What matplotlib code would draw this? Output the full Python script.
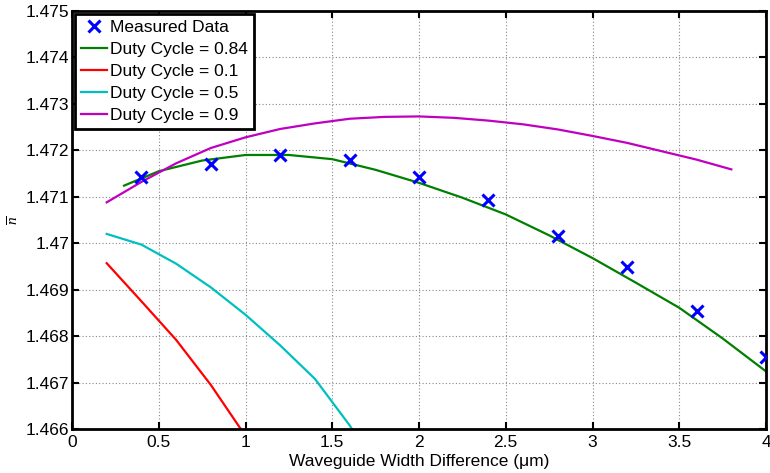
import matplotlib
matplotlib.use("Agg")
import matplotlib.pyplot as plt
from matplotlib.ticker import FuncFormatter

plt.rcParams['font.family'] = ['Liberation Sans', 'DejaVu Sans']
plt.rcParams['mathtext.fontset'] = 'custom'
plt.rcParams['mathtext.it'] = 'Liberation Serif:italic'
plt.rcParams['mathtext.rm'] = 'Liberation Serif'

# Measured data
meas_x = [0.4, 0.8, 1.2, 1.6, 2.0, 2.4, 2.8, 3.2, 3.6, 4.0]
meas_y = [1.47142, 1.47171, 1.47190, 1.47180, 1.47142, 1.47093, 1.47016, 1.46949, 1.46853, 1.46754]

# Duty cycle 0.84
dc084_x = [0.3, 0.5, 0.75, 1.0, 1.25, 1.5, 1.75, 2.0, 2.25, 2.5, 2.75, 3.0, 3.25, 3.5, 3.75, 4.0]
dc084_y = [1.47124, 1.47155, 1.47178, 1.47190, 1.47190, 1.47181, 1.47158, 1.47130, 1.47098,
           1.47062, 1.47017, 1.46968, 1.46915, 1.46861, 1.46795, 1.46724]

# Duty cycle 0.1
dc01_x = [0.2, 0.4, 0.6, 0.8, 1.0]
dc01_y = [1.46957, 1.46875, 1.46792, 1.46695, 1.46585]

# Duty cycle 0.5
dc05_x = [0.2, 0.4, 0.6, 0.8, 1.0, 1.2, 1.4, 1.6, 1.8]
dc05_y = [1.47020, 1.46997, 1.46956, 1.46905, 1.46846, 1.46780, 1.46708, 1.46608, 1.46490]

# Duty cycle 0.9
dc09_x = [0.2, 0.4, 0.6, 0.8, 1.0, 1.2, 1.4, 1.6, 1.8, 2.0, 2.2, 2.4, 2.6, 2.8, 3.0, 3.2, 3.4, 3.6, 3.8]
dc09_y = [1.47088, 1.47132, 1.47172, 1.47205, 1.47228, 1.47246, 1.47258, 1.47268, 1.47272, 1.47273,
          1.47270, 1.47264, 1.47256, 1.47245, 1.47231, 1.47216, 1.47198, 1.47180, 1.47159]

xticks = [0, 0.5, 1, 1.5, 2, 2.5, 3, 3.5, 4]
yticks = [1.466, 1.467, 1.468, 1.469, 1.470, 1.471, 1.472, 1.473, 1.474, 1.475]

fig = plt.figure(figsize=(7.7, 4.73), dpi=100)
ax = fig.add_axes([72/770, 1-429/473, (766-72)/770, (429-11)/473])

lw = 1.6
ax.plot(meas_x, meas_y, 'x', color='#0000ff', ms=8, mew=2.2, label='Measured Data', zorder=5)
ax.plot(dc084_x, dc084_y, color='#008000', lw=lw, label='Duty Cycle = 0.84')
ax.plot(dc01_x, dc01_y, color='#ff0000', lw=lw, label='Duty Cycle = 0.1')
ax.plot(dc05_x, dc05_y, color='#00bfbf', lw=lw, label='Duty Cycle = 0.5')
ax.plot(dc09_x, dc09_y, color='#bf00bf', lw=lw, label='Duty Cycle = 0.9')

ax.set_xlim(0, 4)
ax.set_ylim(1.466, 1.475)
ax.set_xticks(xticks)
ax.set_yticks(yticks)
ax.xaxis.set_major_formatter(FuncFormatter(lambda v, p: '%g' % v))
ax.yaxis.set_major_formatter(FuncFormatter(lambda v, p: '%g' % round(v, 3)))
ax.tick_params(direction='in', top=True, right=True, length=5, width=1.5, labelsize=12.5)
ax.tick_params(axis='x', pad=4)
ax.tick_params(axis='y', pad=2)
ax.grid(True, linestyle=(0, (1, 2)), color='#888888', linewidth=0.8)
for s in ax.spines.values():
    s.set_linewidth(2)
    s.set_color('black')

ax.set_xlabel('Waveguide Width Difference (\u03bcm)', fontsize=12.5, labelpad=3)
ax.set_ylabel(r'$\overline{n}$', fontsize=11, va='center')
ax.yaxis.set_label_coords((14 - 72) / 694, 0.5)

leg = ax.legend(loc='upper left', fontsize=12.5, frameon=True, fancybox=False,
                borderpad=0.35, labelspacing=0.4, handlelength=1.5, handletextpad=0.2,
                borderaxespad=0.15)
leg.get_frame().set_edgecolor('black')
leg.get_frame().set_linewidth(2)
leg.get_frame().set_alpha(1)

fig.savefig('out.png', dpi=100)
